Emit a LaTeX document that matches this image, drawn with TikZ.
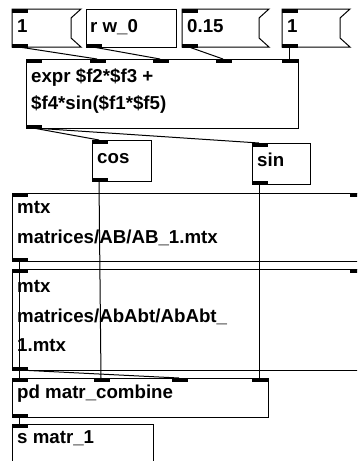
\documentclass[tikz,border=0pt]{standalone}
\usepackage{fontspec}
\setmainfont{Liberation Sans}
\newcommand\pdobj[5]{\node[obj,minimum width=#4pt,minimum height=#5pt] (#1) at (#2,#3) {};}
\newcommand\pdin[3]{\fill ([xshift=#3pt]#2.north west) ++(0,-0.5) rectangle ++(16,4);
  \coordinate (#2-in#1) at ([xshift=#3pt+7pt]#2.north west);}
\newcommand\pdout[2]{\fill ([xshift=#2pt]#1.south west) ++(0,0.5) rectangle ++(16,-4);
  \coordinate (#1-out) at ([xshift=#2pt+7pt]#1.south west);}
\begin{document}
\begin{tikzpicture}[x=1pt,y=-1pt,
  obj/.style={draw,line width=1pt,inner sep=0pt,outer sep=0pt,anchor=north west},
  nbox/.style={inner sep=0pt,outer sep=0pt,anchor=north west},
  nboutline/.style={line width=1pt},
  lbl/.style={anchor=base west,inner sep=0pt,font=\fontsize{18.7}{22}\selectfont\bfseries},
  wire/.style={line width=1pt}]
\useasboundingbox (0,0) rectangle (357,461);
\clip (0,0) rectangle (357,461);

% number boxes
\node[nbox,minimum width=69pt,minimum height=38pt] (nb1) at (12,9) {};
\draw[nboutline] (nb1.north west) -- (nb1.north east) -- ++(-10,9) -- ++(0,20) -- (nb1.south east) -- (nb1.south west) -- cycle;
\node[nbox,minimum width=87pt,minimum height=38pt] (nb015) at (182,9) {};
\draw[nboutline] (nb015.north west) -- (nb015.north east) -- ++(-10,9) -- ++(0,20) -- (nb015.south east) -- (nb015.south west) -- cycle;
\node[nbox,minimum width=68pt,minimum height=38pt] (nb1b) at (282,9) {};
\draw[nboutline] (nb1b.north west) -- (nb1b.north east) -- ++(-10,9) -- ++(0,20) -- (nb1b.south east) -- (nb1b.south west) -- cycle;

% object boxes
\pdobj{rw0}{86}{9}{90}{38}
\pdobj{expr}{26}{59}{272}{69}
\pdobj{cos}{92}{140}{59}{41}
\pdobj{sin}{252}{143}{58}{41}
\pdobj{mtxa}{12}{193}{354}{68}
\pdobj{mtxb}{12}{269}{354}{101}
\pdobj{comb}{12}{378}{256}{39}
\pdobj{smatr}{12}{424}{141}{60}

% iolets
\pdin{1}{nb1}{0} \pdout{nb1}{0}
\pdout{rw0}{0}
\pdin{1}{nb015}{0} \pdout{nb015}{0}
\pdin{1}{nb1b}{0} \pdout{nb1b}{0}
\pdin{1}{expr}{0} \pdin{2}{expr}{64} \pdin{3}{expr}{127} \pdin{4}{expr}{190} \pdin{5}{expr}{256}
\pdout{expr}{0}
\pdin{1}{cos}{0} \pdout{cos}{0}
\pdin{1}{sin}{0} \pdout{sin}{0}
\pdin{1}{mtxa}{0} \pdin{2}{mtxa}{338} \pdout{mtxa}{0}
\pdin{1}{mtxb}{0} \pdin{2}{mtxb}{338} \pdout{mtxb}{0}
\pdin{1}{comb}{0} \pdin{2}{comb}{82} \pdin{3}{comb}{160} \pdin{4}{comb}{240}
\pdout{comb}{0}
\pdin{1}{smatr}{0}

% labels
\node[lbl] (t-nb1) at (17,32) {1};
\node[lbl] (t-rw0) at (90,32) {r w\_0};
\node[lbl] (t-nb015) at (187,32) {0.15};
\node[lbl] (t-nb1b) at (287,32) {1};
\node[lbl] (t-expr1) at (31,82) {expr \$f2*\$f3 +};
\node[lbl] (t-expr2) at (31,109) {\$f4*sin(\$f1*\$f5)};
\node[lbl] (t-cos) at (97,163) {cos};
\node[lbl] (t-sin) at (257,166) {sin};
\node[lbl] (t-mtxa1) at (17,213) {mtx};
\node[lbl] (t-mtxa2) at (17,243) {matrices/AB/AB\_1.mtx};
\node[lbl] (t-mtxb1) at (17,292) {mtx};
\node[lbl] (t-mtxb2) at (17,322) {matrices/AbAbt/AbAbt\_};
\node[lbl] (t-mtxb3) at (17,351) {1.mtx};
\node[lbl] (t-comb) at (17,398) {pd matr\_combine};
\node[lbl] (t-smatr) at (17,443) {s matr\_1};

% connections
\draw[wire] (nb1-out) -- (expr-in2);
\draw[wire] (rw0-out) -- (expr-in3);
\draw[wire] (nb015-out) -- (expr-in4);
\draw[wire] (nb1b-out) -- (expr-in5);
\draw[wire] (expr-out) -- (cos-in1);
\draw[wire] (expr-out) -- (sin-in1);
\draw[wire] (cos-out) -- (comb-in2);
\draw[wire] (sin-out) -- (comb-in4);
\draw[wire] (mtxa-out) -- (comb-in1);
\draw[wire] (mtxb-out) -- (comb-in3);
\draw[wire] (comb-out) -- (smatr-in1);
\end{tikzpicture}
\end{document}
